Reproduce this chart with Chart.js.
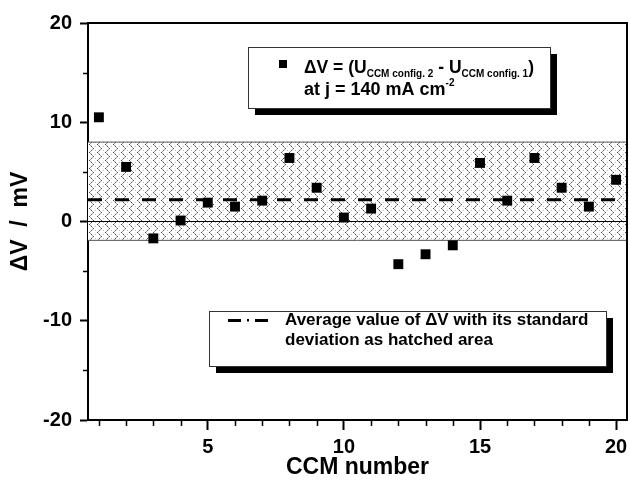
<!DOCTYPE html>
<html><head><meta charset="utf-8">
<script src="https://cdn.jsdelivr.net/npm/chart.js@4.4.1/dist/chart.umd.min.js"></script>
<style>html,body{margin:0;padding:0;background:#fff}#wrap{width:630px;height:485px;position:relative}canvas{display:block}</style>
</head><body><div id="wrap"><canvas id="c" width="630" height="485" style="width:630px;height:485px"></canvas></div>
<script>
// ---- data ----
const ccmNumbers = [1,2,3,4,5,6,7,8,9,10,11,12,13,14,15,16,17,18,19,20];
const deltaV = [10.5,5.5,-1.7,0.1,1.9,1.5,2.1,6.4,3.4,0.4,1.3,-4.3,-3.3,-2.4,5.9,2.1,6.4,3.4,1.5,4.2];
const meanDeltaV = 2.2;
const bandUpper = 8.0;
const bandLower = -1.9;
const xRange = [0.6, 20.4];
const yRange = [-20, 20];
const xMajorTicks = [5,10,15,20];
const xMinorTicks = [1,2,3,4,5,6,7,8,9,10,11,12,13,14,15,16,17,18,19,20];
const yMajorTicks = [-20,-10,0,10,20];
const yMinorTicks = [-15,-5,5,15];

const FONT = '"Liberation Sans", Arial, sans-serif';

function makeHatch(){
  const c = document.createElement('canvas'); c.width = 8; c.height = 8;
  const g = c.getContext('2d');
  g.fillStyle = '#fff'; g.fillRect(0,0,8,8);
  const px = [[1,0],[2,1],[3,2],[4,3],[5,4],[4,5],[3,6],[2,7]];
  px.forEach((p,i)=>{ g.fillStyle = (i%2===0) ? '#484848' : '#999'; g.fillRect(p[0],p[1],1,1); });
  g.fillStyle = '#bbb'; g.fillRect(7,2,1,1); g.fillRect(7,6,1,1);
  return g.createPattern(c,'repeat');
}

const points = ccmNumbers.map((x,i)=>({x, y: deltaV[i]}));
const span = v => [{x:xRange[0], y:v},{x:xRange[1], y:v}];

const framePlugin = {
  id:'frame',
  afterDatasetsDraw(chart){
    const {ctx, chartArea:a, scales:{x, y}} = chart;
    ctx.save();
    ctx.strokeStyle = '#000';
    ctx.lineWidth = 1.5;
    ctx.beginPath();
    xMinorTicks.forEach(v=>{ if (xMajorTicks.includes(v)) return; const px = Math.round(x.getPixelForValue(v))+0.5; ctx.moveTo(px, a.bottom); ctx.lineTo(px, a.bottom+6); });
    yMinorTicks.forEach(v=>{ const py = Math.round(y.getPixelForValue(v))+0.5; ctx.moveTo(a.left, py); ctx.lineTo(a.left-5, py); });
    ctx.stroke();
    ctx.lineWidth = 2;
    ctx.beginPath();
    ctx.moveTo(a.left, a.top); ctx.lineTo(a.right, a.top); ctx.lineTo(a.right, a.bottom);
    ctx.stroke();
    ctx.restore();
  },
  afterDraw(chart){
    const ctx = chart.ctx;
    ctx.save();
    function box(x0,y0,w,h){
      ctx.fillStyle = '#000'; ctx.fillRect(x0+7, y0+7, w, h);
      ctx.fillStyle = '#fff'; ctx.fillRect(x0, y0, w, h);
      ctx.strokeStyle = '#333'; ctx.lineWidth = 1; ctx.strokeRect(x0+0.5, y0+0.5, w, h);
    }
    function seq(parts, x0, base){
      let x = x0;
      parts.forEach(p=>{
        ctx.font = 'bold '+p.size+'px '+FONT;
        ctx.fillText(p.t, x, base + (p.dy||0));
        x += ctx.measureText(p.t).width;
      });
    }
    ctx.fillStyle = '#000'; ctx.textBaseline = 'alphabetic'; ctx.textAlign = 'left';
    box(248, 47, 302, 61);
    ctx.fillStyle = '#000';
    ctx.fillRect(279, 60, 8, 8);
    seq([{t:'\u0394V = (U',size:17.5},{t:'CCM config. 2',size:10,dy:4},{t:' - U',size:17.5},{t:'CCM config. 1',size:10,dy:4},{t:')',size:17.5}], 304, 73);
    seq([{t:'at j = 140 mA cm',size:18},{t:'-2',size:10,dy:-9}], 304, 95);
    box(209, 311, 397, 55);
    ctx.fillStyle = '#000';
    ctx.fillRect(228, 319, 13, 3);
    ctx.fillRect(247, 319, 2, 2.5);
    ctx.fillRect(255, 319, 13, 3);
    ctx.font = 'bold 17px '+FONT;
    ctx.fillText('Average value of \u0394V with its standard', 285, 325);
    ctx.fillText('deviation as hatched area', 285, 345);
    ctx.restore();
  }
};

new Chart(document.getElementById('c'), {
  type:'scatter',
  data:{datasets:[
    {label:'points', data:points, pointStyle:'rect', pointRadius:7, pointHoverRadius:7, backgroundColor:'#000', borderWidth:0, order:0},
    {label:'mean', data:span(meanDeltaV), showLine:true, borderColor:'#000', borderWidth:3, borderDash:[14,13], pointRadius:0, fill:false, order:1},
    {label:'zero', data:span(0), showLine:true, borderColor:'#000', borderWidth:1, pointRadius:0, fill:false, order:2},
    {label:'band', data:span(bandUpper), showLine:true, borderColor:'#555', borderWidth:1, pointRadius:0, fill:{value:bandLower}, backgroundColor:makeHatch(), order:4},
    {label:'bandLow', data:span(bandLower), showLine:true, borderColor:'#555', borderWidth:1, pointRadius:0, fill:false, order:3}
  ]},
  options:{
    responsive:false, animation:false, devicePixelRatio:1,
    layout:{autoPadding:false, padding:{top:23, right:3, left:0, bottom:0}},
    plugins:{legend:{display:false}, tooltip:{enabled:false}},
    scales:{
      x:{type:'linear', min:xRange[0], max:xRange[1],
        afterBuildTicks(s){ s.ticks = xMajorTicks.map(v=>({value:v})); },
        afterFit(s){ s.height = 65; s.paddingLeft = 0; s.paddingRight = 0; },
        grid:{drawOnChartArea:false, drawTicks:true, tickLength:10, tickWidth:2, tickColor:'#000'},
        border:{display:true, width:2, color:'#000'},
        ticks:{color:'#000', padding:5, font:{family:FONT, size:20, weight:'bold'}, maxRotation:0, autoSkip:false},
        title:{display:true, text:'CCM number', color:'#000', font:{family:FONT, size:23, weight:'bold'}, padding:{top:0,bottom:4}}
      },
      y:{type:'linear', min:yRange[0], max:yRange[1],
        afterBuildTicks(s){ s.ticks = yMajorTicks.map(v=>({value:v})); },
        afterFit(s){ s.width = 88; s.paddingTop = 0; s.paddingBottom = 0; },
        grid:{drawOnChartArea:false, drawTicks:true, tickLength:8, tickWidth:2, tickColor:'#000'},
        border:{display:true, width:2, color:'#000'},
        ticks:{color:'#000', padding:8, font:{family:FONT, size:20, weight:'bold'}, autoSkip:false},
        title:{display:true, text:'\u0394V  /  mV', color:'#000', font:{family:FONT, size:23, weight:'bold'}, padding:{top:7,bottom:0}}
      }
    }
  },
  plugins:[framePlugin]
});
</script></body></html>
